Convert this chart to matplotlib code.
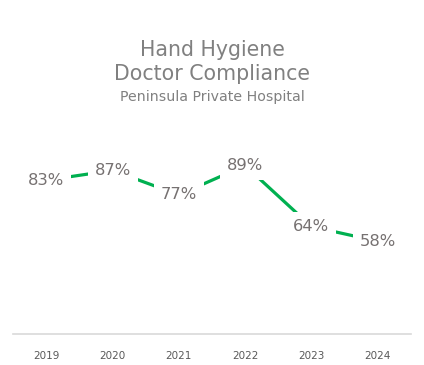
import matplotlib
matplotlib.use("Agg")
import matplotlib.pyplot as plt

# --- DATA ---
years = ["2019", "2020", "2021", "2022", "2023", "2024"]
compliance = [83, 87, 77, 89, 64, 58]

title_lines = ["Hand Hygiene", "Doctor Compliance"]
subtitle = "Peninsula Private Hospital"

plt.rcParams["font.family"] = ["DejaVu Sans"]

fig = plt.figure(figsize=(4.24, 3.65), dpi=100)
ax = fig.add_axes([0.031, 0.085, 0.938, 0.535])

x = list(range(len(years)))
ax.plot(x, compliance, color="#00B050", linewidth=2.3, solid_capstyle="butt", zorder=2)

for xi, v in zip(x, compliance):
    ax.text(xi, v, f"{v}%", ha="center", va="center", fontsize=11.8, color="#767171",
            bbox=dict(facecolor="white", edgecolor="none", pad=5), zorder=3)

ax.set_xlim(-0.5, len(years) - 0.5)
ax.set_ylim(20, 100)
ax.set_xticks(x)
ax.set_xticklabels(years, fontsize=7.5, color="#595959")
ax.tick_params(axis="x", length=0, pad=12)
ax.set_yticks([])
for side in ["top", "left", "right"]:
    ax.spines[side].set_visible(False)
ax.spines["bottom"].set_color("#D9D9D9")
ax.spines["bottom"].set_linewidth(1.2)

fig.text(0.5, 1 - 50 / 365, title_lines[0], ha="center", va="center", fontsize=14.8, color="#808080")
fig.text(0.5, 1 - 74 / 365, title_lines[1], ha="center", va="center", fontsize=14.8, color="#808080")
fig.text(0.5, 1 - 97 / 365, subtitle, ha="center", va="center", fontsize=10.2, color="#808080")

fig.savefig("out.png", dpi=100, facecolor="white")
